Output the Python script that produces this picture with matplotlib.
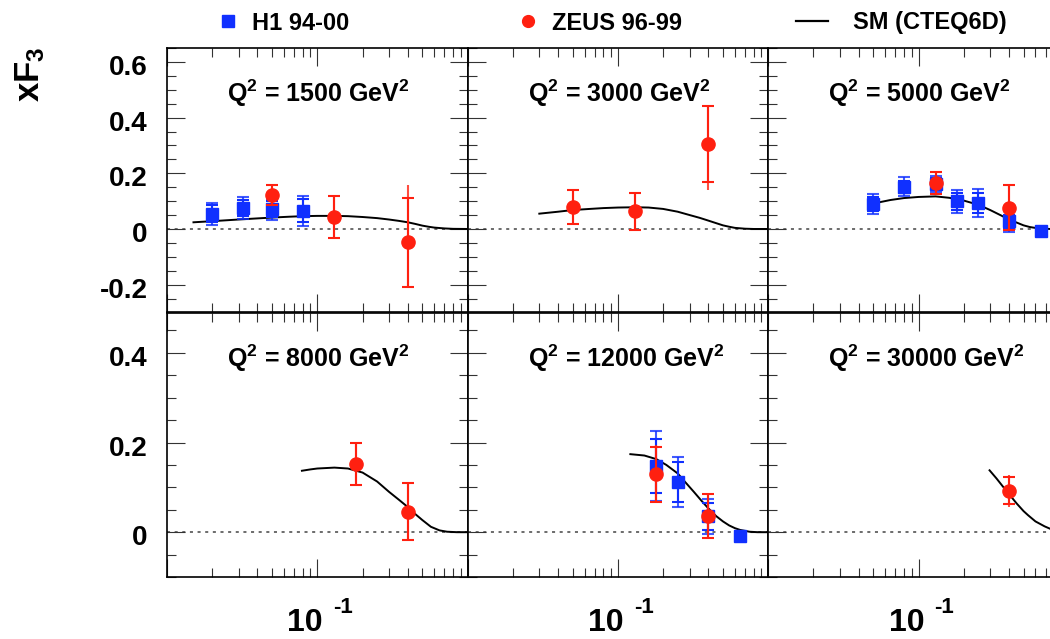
import matplotlib
matplotlib.use('Agg')
import matplotlib.pyplot as plt
from matplotlib.lines import Line2D
from matplotlib.transforms import ScaledTranslation
from matplotlib.ticker import LogLocator, NullFormatter, FixedLocator, MultipleLocator

plt.rcParams['font.family'] = ['Liberation Sans', 'DejaVu Sans']
plt.rcParams['font.weight'] = 'bold'
plt.rcParams['mathtext.fontset'] = 'custom'
plt.rcParams['mathtext.default'] = 'regular'
plt.rcParams['mathtext.rm'] = 'Liberation Sans:bold'
plt.rcParams['mathtext.bf'] = 'Liberation Sans:bold'

# ---------------- data ----------------
q2_values = [1500, 3000, 5000, 8000, 12000, 30000]

# H1 94-00 (per panel)
h1_x = [[0.02, 0.032, 0.05, 0.08], [], [0.05, 0.08, 0.13, 0.18, 0.25, 0.4, 0.65],
        [], [0.18, 0.25, 0.4, 0.65], []]
h1_y = [[0.055, 0.075, 0.071, 0.066], [], [0.089, 0.152, 0.162, 0.099, 0.093, 0.027, -0.008],
        [], [0.148, 0.112, 0.035, -0.008], []]
h1_stat = [[0.03, 0.03, 0.028, 0.04], [], [0.025, 0.022, 0.02, 0.03, 0.035, 0.022, 0.005],
           [], [0.06, 0.045, 0.03, 0.006], []]
h1_tot = [[0.04, 0.04, 0.037, 0.054], [], [0.037, 0.034, 0.03, 0.04, 0.05, 0.038, 0.008],
          [], [0.078, 0.055, 0.04, 0.01], []]

# ZEUS 96-99 (per panel)
zeus_x = [[0.05, 0.13, 0.4], [0.05, 0.13, 0.4], [0.13, 0.4], [0.18, 0.4], [0.18, 0.4], [0.4]]
zeus_y = [[0.122, 0.042, -0.047], [0.079, 0.063, 0.304], [0.166, 0.077], [0.153, 0.046],
          [0.129, 0.036], [0.092]]
zeus_stat = [[0.037, 0.075, 0.16], [0.062, 0.065, 0.137], [0.04, 0.08], [0.047, 0.063],
             [0.062, 0.05], [0.03]]
zeus_tot_up = [[0.04, 0.077, 0.205], [0.065, 0.067, 0.14], [0.042, 0.085], [0.047, 0.063],
               [0.065, 0.05], [0.035]]
zeus_tot_dn = [[0.04, 0.077, 0.16], [0.065, 0.067, 0.165], [0.042, 0.085], [0.047, 0.063],
               [0.065, 0.05], [0.035]]

# SM (CTEQ6D) prediction (per panel)
sm_x = [[0.015, 0.02, 0.03, 0.04, 0.05, 0.065, 0.08, 0.1, 0.13, 0.16, 0.2, 0.25, 0.3, 0.35,
         0.4, 0.45, 0.5, 0.55, 0.6, 0.7, 0.8, 1.0],
        [0.03, 0.04, 0.05, 0.065, 0.08, 0.1, 0.13, 0.16, 0.2, 0.25, 0.3, 0.35, 0.4, 0.45,
         0.5, 0.55, 0.6, 0.7, 0.8, 1.0],
        [0.055, 0.065, 0.08, 0.1, 0.13, 0.16, 0.2, 0.25, 0.3, 0.35, 0.4, 0.45, 0.5, 0.55,
         0.63, 0.75, 1.0],
        [0.079, 0.09, 0.1, 0.13, 0.16, 0.2, 0.25, 0.3, 0.35, 0.4, 0.45, 0.5, 0.57, 0.65,
         0.73, 0.85, 1.0],
        [0.121, 0.15, 0.18, 0.21, 0.25, 0.28, 0.32, 0.36, 0.4, 0.45, 0.5, 0.55, 0.6, 0.65,
         0.75, 0.85, 1.0],
        [0.297, 0.33, 0.36, 0.4, 0.45, 0.5, 0.535, 0.6, 0.69, 0.77, 0.85, 1.0]]
sm_y = [[0.024, 0.028, 0.034, 0.038, 0.041, 0.044, 0.046, 0.047, 0.047, 0.046, 0.043, 0.039,
         0.034, 0.029, 0.024, 0.018, 0.012, 0.008, 0.005, 0.002, 0.0005, 0.0],
        [0.055, 0.062, 0.068, 0.072, 0.075, 0.077, 0.078, 0.077, 0.072, 0.062, 0.05, 0.04,
         0.03, 0.021, 0.013, 0.008, 0.004, 0.001, 0.0, 0.0],
        [0.096, 0.104, 0.111, 0.115, 0.117, 0.112, 0.102, 0.087, 0.068, 0.05, 0.034, 0.023,
         0.013, 0.007, 0.002, 0.0, 0.0],
        [0.137, 0.14, 0.142, 0.144, 0.142, 0.133, 0.113, 0.09, 0.072, 0.056, 0.04, 0.027,
         0.012, 0.004, 0.001, 0.0, 0.0],
        [0.174, 0.171, 0.163, 0.15, 0.131, 0.112, 0.09, 0.07, 0.053, 0.036, 0.024, 0.015,
         0.009, 0.005, 0.001, 0.0, 0.0],
        [0.138, 0.12, 0.104, 0.085, 0.064, 0.047, 0.038, 0.024, 0.013, 0.006, 0.002, 0.0]]

top_yticks = [-0.2, 0, 0.2, 0.4, 0.6]
top_ylabels = ['-0.2', '0', '0.2', '0.4', '0.6']
bot_yticks = [0, 0.2, 0.4]
bot_ylabels = ['0', '0.2', '0.4']
x_tick_base = '10'
x_tick_exp = '-1'

H1_COLOR = '#1030ff'
ZEUS_COLOR = '#ff2010'

# ---------------- figure ----------------
W, H = 1050, 639
fig = plt.figure(figsize=(W / 100, H / 100), dpi=100)

col_left_px = [167.0, 467.6, 768.2]
col_w_px = 300.6
row_top_px = [48.0, 312.5]
row_h_px = 264.5

for i, q2 in enumerate(q2_values):
    r, c = divmod(i, 3)
    left = col_left_px[c] / W
    bottom = (H - (row_top_px[r] + row_h_px)) / H
    ax = fig.add_axes([left, bottom, col_w_px / W, row_h_px / H])
    ax.set_xscale('log')
    ax.set_xlim(0.01, 1.0)
    if r == 0:
        ax.set_ylim(-0.3, 0.65)
    else:
        ax.set_ylim(-0.1, 0.49)

    ax.axhline(0, color='#444444', lw=1.1, ls=(0, (2, 3)), zorder=1)
    ax.plot(sm_x[i], sm_y[i], color='black', lw=1.4, zorder=2)

    if h1_x[i]:
        ax.errorbar(h1_x[i], h1_y[i], yerr=h1_tot[i], fmt='none', ecolor=H1_COLOR,
                    elinewidth=1.5, capsize=4, capthick=1.5, alpha=0.8, zorder=3)
        ax.errorbar(h1_x[i], h1_y[i], yerr=h1_stat[i], fmt='s', color=H1_COLOR, ms=9,
                    mec=H1_COLOR, elinewidth=1.5, capsize=4, capthick=1.5, zorder=4)
    if zeus_x[i]:
        ax.errorbar(zeus_x[i], zeus_y[i], yerr=[zeus_tot_dn[i], zeus_tot_up[i]], fmt='none',
                    ecolor=ZEUS_COLOR, elinewidth=1.5, capsize=0, alpha=0.8, zorder=5)
        ax.errorbar(zeus_x[i], zeus_y[i], yerr=zeus_stat[i], fmt='o', color=ZEUS_COLOR, ms=9.5,
                    mec=ZEUS_COLOR, elinewidth=1.5, capsize=4.5, capthick=1.5, zorder=6)

    ax.text(0.2, 0.794, 'Q$^{2}$ = %d GeV$^{2}$' % q2, transform=ax.transAxes,
            ha='left', va='baseline', fontsize=18, fontweight='bold')

    # ticks
    ax.xaxis.set_major_locator(FixedLocator([0.01, 0.1, 1.0]))
    ax.xaxis.set_minor_locator(LogLocator(base=10, subs=range(2, 10), numticks=20))
    ax.xaxis.set_minor_formatter(NullFormatter())
    ax.set_xticklabels(['', x_tick_base, ''])
    if r == 0:
        ax.set_yticks(top_yticks)
        ax.set_yticklabels(top_ylabels)
    else:
        ax.set_yticks(bot_yticks)
        ax.set_yticklabels(bot_ylabels)
    ax.yaxis.set_minor_locator(MultipleLocator(0.05))
    ax.tick_params(which='both', direction='in', top=True, right=True, width=0.8,
                   color='#333333')
    ax.tick_params(which='major', length=13)
    ax.tick_params(which='minor', length=6.5)
    ax.tick_params(axis='y', labelsize=20, pad=14, labelleft=(c == 0))
    ax.tick_params(axis='x', labelsize=23, pad=22, labelbottom=(r == 1))
    ydown = ScaledTranslation(0, -3 / 100, fig.dpi_scale_trans)
    for lab in ax.get_yticklabels():
        lab.set_transform(lab.get_transform() + ydown)
    if r == 1:
        shift = ScaledTranslation(-12 / 100, 0, fig.dpi_scale_trans)
        for lab in ax.get_xticklabels():
            lab.set_transform(lab.get_transform() + shift)
        ax.annotate(x_tick_exp, xy=(0.1, 0), xycoords=('data', 'axes fraction'),
                    xytext=(11.5, -14.5), textcoords='offset points', ha='left', va='top',
                    fontsize=16, fontweight='bold', annotation_clip=False)
    for sp in ax.spines.values():
        sp.set_linewidth(1.2)

fig.text(30 / W, 1 - 47 / H, 'xF$_{3}$', rotation=90, ha='center', va='top',
         fontsize=25, fontweight='bold')

# legend
legend_entries = [
    (Line2D([], [], ls='none', marker='s', color=H1_COLOR, ms=8), 'H1 94-00', 212, 0.34),
    (Line2D([], [], ls='none', marker='o', color=ZEUS_COLOR, ms=8.5), 'ZEUS 96-99', 512, 0.34),
    (Line2D([], [], color='black', lw=1.6), 'SM (CTEQ6D)', 796, 1.05),
]
for handle, label, x0, pad in legend_entries:
    fig.legend([handle], [label], loc='center left', bbox_to_anchor=(x0 / W, 1 - 23 / H),
               frameon=False, handlelength=1.36, handletextpad=pad,
               borderpad=0, borderaxespad=0, prop={'weight': 'bold', 'size': 17})

fig.savefig('out.png', dpi=100)
